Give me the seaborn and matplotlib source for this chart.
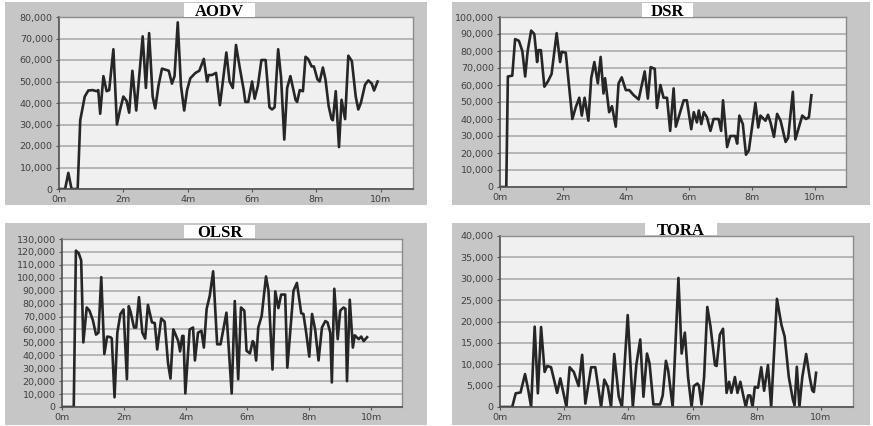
import matplotlib
matplotlib.use("Agg")
import matplotlib.pyplot as plt
import pandas as pd
import seaborn as sns
from matplotlib.patches import Rectangle
from matplotlib.ticker import FuncFormatter, MultipleLocator

# ---- throughput traces (time in minutes, value in bits/sec) ----
aodv_time = [0.0, 0.19, 0.29, 0.39, 0.58, 0.66, 0.8, 0.91, 1.04, 1.17, 1.22, 1.28, 1.38, 1.48, 1.56,
             1.69, 1.8, 1.9, 2.0, 2.1, 2.18, 2.28, 2.4, 2.6, 2.7, 2.8, 2.91, 2.99, 3.09, 3.2, 3.41,
             3.51, 3.59, 3.69, 3.79, 3.89, 3.98, 4.08, 4.24, 4.36, 4.5, 4.6, 4.65, 4.75, 4.88, 5.0,
             5.1, 5.2, 5.3, 5.4, 5.5, 5.61, 5.74, 5.79, 5.88, 6.0, 6.08, 6.18, 6.29, 6.42, 6.54,
             6.62, 6.7, 6.81, 6.9, 7.0, 7.09, 7.19, 7.35, 7.4, 7.48, 7.58, 7.66, 7.74, 7.85, 7.92,
             8.03, 8.1, 8.2, 8.28, 8.38, 8.47, 8.51, 8.6, 8.7, 8.78, 8.89, 8.99, 9.1, 9.22, 9.3,
             9.38, 9.51, 9.61, 9.72, 9.79, 9.9]
aodv_value = [0, 0, 7500, 0, 0, 32000, 43000, 45800, 46000, 45500, 46000, 35000, 52500, 45500, 46000,
              65000, 30000, 37000, 43000, 41000, 35500, 55000, 36500, 71000, 47000, 72500, 43000, 37500, 48000, 56000, 55000,
              49000, 52500, 77500, 48000, 36500, 46000, 51500, 54000, 55000, 60500, 50000, 53000, 53000, 54000, 39000,
              51000, 63500, 50000, 47000, 67000, 57000, 46000, 40500, 40500, 50000, 42000, 48000, 60000, 60000, 38000,
              37000, 38000, 65000, 52000, 23000, 47000, 52500, 41500, 40500, 46000, 45500, 61500, 60500, 57000, 57000,
              51000, 50000, 56500, 51000, 38500, 32500, 32000, 45500, 19500, 41500, 32500, 62000, 59500, 43000, 37000,
              40000, 48500, 50500, 49000, 45800, 50000]

dsr_time = [0.0, 0.2, 0.25, 0.39, 0.48, 0.6, 0.71, 0.8, 0.88, 0.99, 1.09, 1.18, 1.22, 1.3, 1.41, 1.52,
            1.64, 1.8, 1.91, 1.96, 2.09, 2.3, 2.41, 2.52, 2.6, 2.69, 2.81, 2.9, 3.0, 3.11, 3.2, 3.29,
            3.34, 3.47, 3.56, 3.68, 3.77, 3.87, 4.0, 4.11, 4.25, 4.41, 4.6, 4.7, 4.79, 4.92, 4.99,
            5.1, 5.2, 5.31, 5.41, 5.52, 5.59, 5.84, 5.94, 6.08, 6.16, 6.26, 6.32, 6.4, 6.48, 6.58,
            6.69, 6.79, 6.95, 7.03, 7.09, 7.22, 7.32, 7.48, 7.54, 7.61, 7.72, 7.82, 7.91, 8.12, 8.21,
            8.28, 8.44, 8.52, 8.6, 8.71, 8.81, 8.92, 9.08, 9.16, 9.31, 9.39, 9.5, 9.61, 9.73, 9.82, 9.9]
dsr_value = [0, 0, 65000, 65500, 87000, 86000, 80000, 65000, 80000, 92000, 90000, 73500, 80500, 80500, 59000, 62000,
             66500, 90500, 73500, 79500, 79000, 40000, 47000, 52500, 42000, 52500, 39000, 64000, 73500, 61000, 76500, 55000,
             64000, 44000, 47500, 35500, 61000, 64500, 57000, 57000, 54000, 51500, 68000, 52000, 70500, 69500, 46500,
             60000, 52500, 52500, 33000, 58000, 35500, 51000, 51000, 34000, 44000, 38000, 45000, 37000, 44000, 41000,
             33000, 40000, 40000, 33000, 51000, 23500, 30000, 30000, 25500, 42000, 37000, 19000, 21500, 49500, 35000,
             42000, 39000, 42500, 38000, 29500, 43000, 39000, 26500, 29000, 56000, 28000, 35000, 42000, 40000, 41000, 54000]

olsr_time = [0.0, 0.38, 0.45, 0.54, 0.62, 0.69, 0.8, 0.89, 1.0, 1.1, 1.18, 1.27, 1.37, 1.46, 1.57, 1.61,
             1.7, 1.79, 1.89, 1.99, 2.1, 2.16, 2.22, 2.33, 2.4, 2.49, 2.6, 2.69, 2.78, 2.91, 3.0, 3.08,
             3.21, 3.32, 3.43, 3.51, 3.6, 3.65, 3.76, 3.82, 3.89, 3.93, 3.99, 4.13, 4.24, 4.3, 4.4,
             4.51, 4.59, 4.68, 4.78, 4.89, 5.02, 5.13, 5.32, 5.49, 5.59, 5.7, 5.79, 5.9, 5.97, 6.08,
             6.17, 6.21, 6.28, 6.35, 6.46, 6.6, 6.68, 6.81, 6.9, 7.0, 7.09, 7.22, 7.29, 7.4, 7.49,
             7.6, 7.74, 7.81, 7.9, 8.0, 8.09, 8.19, 8.3, 8.41, 8.52, 8.59, 8.68, 8.73, 8.81, 8.92,
             9.0, 9.11, 9.17, 9.22, 9.31, 9.41, 9.47, 9.6, 9.68, 9.76, 9.87]
olsr_value = [0, 0, 121000, 119000, 113500, 50000, 77000, 74500, 67000, 56000, 57500, 100500, 41000, 54500, 54000, 53000,
              7500, 57500, 72000, 75500, 21500, 78000, 73500, 61500, 61500, 85000, 57500, 53000, 79000, 65500, 65000, 44500,
              68500, 66000, 34000, 22000, 60000, 57500, 51000, 43000, 55000, 55000, 10500, 60000, 61500, 36000, 57500,
              59000, 46000, 76000, 86000, 105000, 48500, 48500, 73000, 10500, 82000, 21500, 77000, 74500, 43500, 41500,
              51000, 49500, 36000, 61500, 70500, 101000, 90000, 29000, 89500, 76500, 87000, 87000, 30500, 63000, 90000,
              96000, 72500, 72000, 57500, 39000, 72000, 60000, 36000, 61500, 66500, 65500, 57500, 19000, 91500, 52500,
              74500, 77000, 76000, 20000, 83000, 46000, 55500, 52500, 54500, 51000, 54000]

tora_time = [0.0, 0.38, 0.49, 0.64, 0.78, 0.88, 0.97, 1.08, 1.18, 1.28, 1.39, 1.47, 1.59, 1.68, 1.78,
             1.88, 2.07, 2.17, 2.3, 2.45, 2.56, 2.66, 2.84, 2.97, 3.15, 3.25, 3.36, 3.46, 3.56, 3.7,
             3.8, 3.98, 4.14, 4.25, 4.37, 4.47, 4.58, 4.66, 4.78, 4.99, 5.07, 5.17, 5.24, 5.38, 5.56,
             5.66, 5.76, 5.86, 5.97, 6.04, 6.15, 6.2, 6.28, 6.36, 6.46, 6.56, 6.7, 6.75, 6.85, 6.95,
             7.06, 7.14, 7.21, 7.32, 7.4, 7.49, 7.58, 7.66, 7.73, 7.8, 7.87, 7.94, 8.04, 8.14, 8.23,
             8.35, 8.45, 8.63, 8.77, 8.87, 9.0, 9.13, 9.18, 9.25, 9.33, 9.42, 9.54, 9.65, 9.73, 9.78, 9.85]
tora_value = [0, 0, 3200, 3400, 7700, 4000, 0, 18800, 3200, 18700, 8200, 9600, 9300, 6500, 3300,
              6700, 0, 9300, 8200, 4900, 12200, 800, 9300, 9300, 0, 6400, 4700, 0, 12400, 2500,
              0, 21500, 0, 10000, 15800, 2400, 12500, 10200, 600, 600, 2700, 10800, 8600, 0, 30200,
              12500, 17400, 7000, 0, 4900, 5500, 5000, 600, 7000, 23400, 18800, 9800, 9600, 16900, 18300,
              3300, 5900, 3300, 7000, 3300, 5900, 2700, 0, 2700, 2700, 0, 4700, 4500, 9300, 3800,
              9800, 0, 25300, 19200, 16500, 7000, 1600, 400, 9400, 0, 7000, 12400, 7000, 3900, 3500, 8000]

titles = ["AODV", "DSR", "OLSR", "TORA"]
y_max = [80000, 100000, 130000, 40000]
y_step = [10000, 10000, 10000, 5000]
x_ticks = [0, 2, 4, 6, 8, 10]
x_tick_labels = [f"{m}m" for m in x_ticks]

W, H = 873, 426
fig = plt.figure(figsize=(W / 100, H / 100), dpi=100)
fig.patch.set_facecolor("white")


def frac(x0, y0, x1, y1):
    """Pixel box with a top-left origin -> figure-fraction [left, bottom, width, height]."""
    return [x0 / W, 1 - y1 / H, (x1 - x0) / W, (y1 - y0) / H]


# panel frame, plot area and title box, in pixels
layout = [
    dict(frame=(5, 2, 427, 205), axes=(59, 17, 413, 189), tbox=(184, 3, 255, 17)),
    dict(frame=(452, 2, 870, 205), axes=(500, 17, 846, 187), tbox=(642, 3, 693, 17)),
    dict(frame=(5, 223, 427, 425), axes=(62, 239, 402, 407), tbox=(184, 225, 255, 238)),
    dict(frame=(452, 223, 870, 425), axes=(500, 236, 853, 407), tbox=(645, 223, 717, 235)),
]

series = [(aodv_time, aodv_value), (dsr_time, dsr_value),
          (olsr_time, olsr_value), (tora_time, tora_value)]

tick_fmt = FuncFormatter(lambda v, _: f"{int(v):,}")

for title, (t, v), ymax, ystep, box in zip(titles, series, y_max, y_step, layout):
    l, b, w, h = frac(*box["frame"])
    fig.add_artist(Rectangle((l, b), w, h, transform=fig.transFigure,
                             facecolor="#c6c6c6", edgecolor="none", zorder=-2))

    ax = fig.add_axes(frac(*box["axes"]))
    ax.set_facecolor("#f0f0f0")
    df = pd.DataFrame({"time": t, "value": v})
    sns.lineplot(data=df, x="time", y="value", ax=ax, color="#262626",
                 linewidth=1.9, estimator=None, sort=False)

    ax.set_xlim(0, 11)
    ax.set_ylim(0, ymax)
    ax.set_xticks(x_ticks)
    ax.set_xticklabels(x_tick_labels)
    ax.yaxis.set_major_locator(MultipleLocator(ystep))
    ax.yaxis.set_major_formatter(tick_fmt)
    ax.set_xlabel("")
    ax.set_ylabel("")
    ax.yaxis.grid(True, color="#a6a6a6", linewidth=1.1)
    ax.xaxis.grid(False)
    ax.set_axisbelow(True)
    ax.tick_params(axis="both", direction="out", length=2.5, width=0.8,
                   color="#555555", labelsize=6.8, labelcolor="#404040", pad=2)

    for side in ("left", "bottom"):
        ax.spines[side].set_color("#505050")
        ax.spines[side].set_linewidth(1.2)
    for side in ("top", "right"):
        ax.spines[side].set_color("#8c8c8c")
        ax.spines[side].set_linewidth(1.0)

    tl, tb, tw, th = frac(*box["tbox"])
    fig.add_artist(Rectangle((tl, tb), tw, th, transform=fig.transFigure,
                             facecolor="white", edgecolor="none", zorder=5))
    fig.text(tl + tw / 2, tb + th / 2, title, ha="center", va="center_baseline",
             fontsize=12, fontweight="bold", family="Liberation Serif",
             color="black", zorder=6)

fig.savefig("out.png", dpi=100)
